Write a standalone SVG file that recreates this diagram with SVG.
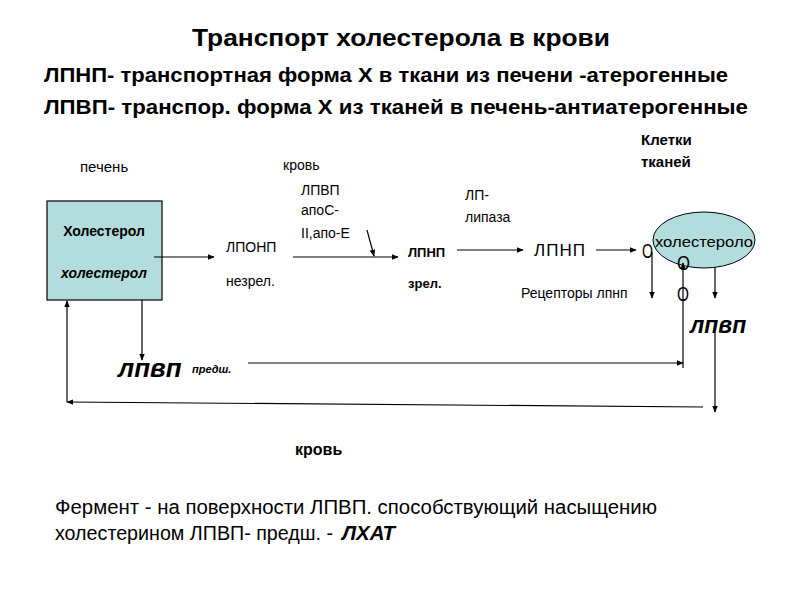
<svg xmlns="http://www.w3.org/2000/svg" width="800" height="600" viewBox="0 0 800 600">
<style>
text{font-family:"Liberation Sans",Arial,sans-serif;fill:#000}
.b{font-weight:bold}
.bi{font-weight:bold;font-style:italic}
.ln{stroke:#000;stroke-width:1.2;fill:none}
</style>
<defs>
<marker id="ah" viewBox="0 0 10 10" refX="9" refY="5" markerWidth="7" markerHeight="7" orient="auto" markerUnits="userSpaceOnUse">
<path d="M0,1 L10,5 L0,9 z" fill="#000"/>
</marker>
</defs>
<rect width="800" height="600" fill="#fff"/>
<g id="header">
<text x="401" y="46" class="b" font-size="24" text-anchor="middle" textLength="418" lengthAdjust="spacingAndGlyphs">Транспорт холестерола в крови</text>
<text x="44" y="82" class="b" font-size="20" textLength="684" lengthAdjust="spacingAndGlyphs">ЛПНП- транспортная форма Х в ткани из печени -атерогенные</text>
<text x="44" y="114" class="b" font-size="20" textLength="704" lengthAdjust="spacingAndGlyphs">ЛПВП- транспор. форма Х из тканей в печень-антиатерогенные</text>
</g>
<g id="labels">
<text x="80" y="172" font-size="15">печень</text>
<text x="283" y="170" font-size="14">кровь</text>
<text x="641" y="145" class="b" font-size="15">Клетки</text>
<text x="641" y="167" class="b" font-size="15">тканей</text>
<text x="301" y="195" font-size="14">ЛПВП</text>
<text x="301" y="215" font-size="14">апоС-</text>
<text x="301" y="238" font-size="14">II,апо-Е</text>
<text x="465" y="200" font-size="14">ЛП-</text>
<text x="465" y="222" font-size="14">липаза</text>
<text x="295" y="455" class="b" font-size="16">кровь</text>
</g>
<g id="liver">
<rect x="47" y="201" width="115" height="99" fill="#b3dcdc" stroke="#000" stroke-width="1.2"/>
<text x="104" y="236" class="b" font-size="14" text-anchor="middle">Холестерол</text>
<text x="104" y="278" class="bi" font-size="14" text-anchor="middle">холестерол</text>
</g>
<g id="lponp">
<text x="226" y="252" font-size="14">ЛПОНП</text>
<text x="226" y="286" font-size="14">незрел.</text>
</g>
<g id="lpnp-mature">
<text x="408" y="257" class="b" font-size="13">ЛПНП</text>
<text x="408" y="288" class="b" font-size="13">зрел.</text>
</g>
<g id="lpnp">
<text x="534" y="256" font-size="17" letter-spacing="1">ЛПНП</text>
<text x="521" y="298" font-size="14">Рецепторы лпнп</text>
</g>
<g id="tissue-cell">
<ellipse cx="704" cy="240" rx="51" ry="28" fill="#b3dcdc" stroke="#000" stroke-width="1"/>
<text x="655" y="247" font-size="15" textLength="98" lengthAdjust="spacingAndGlyphs">холестероло</text>
<text x="642" y="258" font-size="21" textLength="11" lengthAdjust="spacingAndGlyphs">О</text>
<text x="677" y="270" font-size="21" textLength="13" lengthAdjust="spacingAndGlyphs">О</text>
<text x="677" y="301" font-size="21" textLength="12" lengthAdjust="spacingAndGlyphs">О</text>
</g>
<g id="hdl">
<text x="690" y="333" class="bi" font-size="23">лпвп</text>
</g>
<g id="hdl-pre">
<text x="118" y="377" class="bi" font-size="26">лпвп</text>
<text x="192" y="373" class="bi" font-size="11">предш.</text>
</g>
<g id="connectors">
<line class="ln" x1="154" y1="257" x2="214" y2="257" marker-end="url(#ah)"/>
<line class="ln" x1="293" y1="257" x2="398" y2="257" marker-end="url(#ah)"/>
<line class="ln" x1="367" y1="230" x2="374" y2="256" marker-end="url(#ah)"/>
<line class="ln" x1="457" y1="250" x2="523" y2="250" marker-end="url(#ah)"/>
<line class="ln" x1="596" y1="250" x2="636" y2="250" marker-end="url(#ah)"/>
<line class="ln" x1="652" y1="252" x2="652" y2="298" marker-end="url(#ah)"/>
<line class="ln" x1="715" y1="267" x2="715" y2="298" marker-end="url(#ah)"/>
<line class="ln" x1="683" y1="368" x2="683" y2="263" marker-end="url(#ah)"/>
<line class="ln" x1="248" y1="363" x2="683" y2="363" marker-end="url(#ah)"/>
<line class="ln" x1="715" y1="333" x2="715" y2="412" marker-end="url(#ah)"/>
<line class="ln" x1="703" y1="407" x2="67" y2="402" marker-end="url(#ah)"/>
<line class="ln" x1="67" y1="402" x2="67" y2="301" marker-end="url(#ah)"/>
<line class="ln" x1="142" y1="300" x2="142" y2="360" marker-end="url(#ah)"/>
</g>
<g id="footer">
<text x="55" y="514" font-size="20" textLength="602" lengthAdjust="spacingAndGlyphs">Фермент - на поверхности ЛПВП. способствующий насыщению</text>
<text x="55" y="540" font-size="20" textLength="278" lengthAdjust="spacingAndGlyphs">холестерином ЛПВП- предш. -</text>
<text x="342" y="540" class="bi" font-size="20" textLength="53" lengthAdjust="spacingAndGlyphs">ЛХАТ</text>
</g>
</svg>
